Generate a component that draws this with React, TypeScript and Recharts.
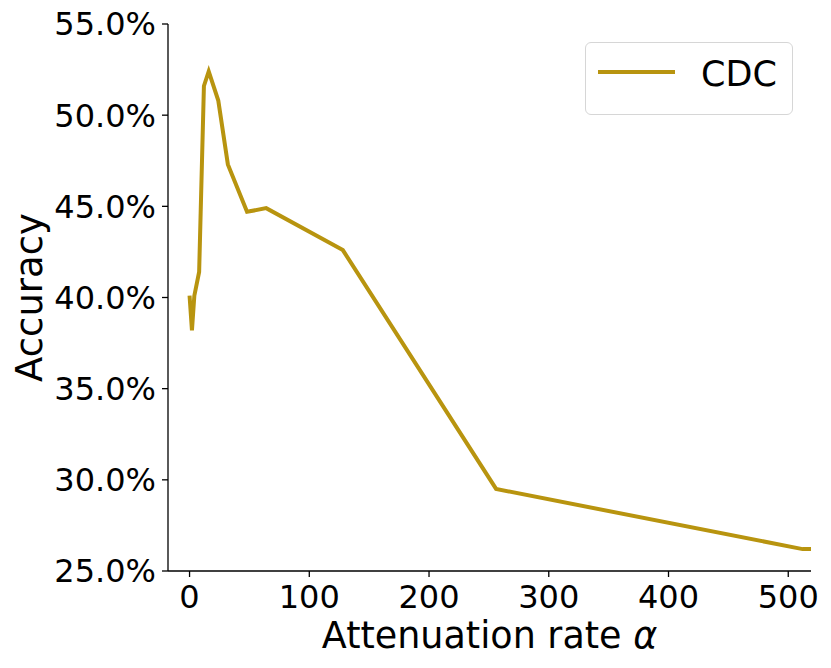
import React from "react";
import { LineChart, Line, XAxis, YAxis, Legend } from "recharts";

// attenuation rate alpha vs accuracy (%)
const alphas = [0, 2, 4, 8, 12, 16, 24, 32, 48, 64, 128, 256, 512, 1024];
const accuracy = [40.1, 38.2, 40.1, 41.4, 51.6, 52.4, 50.8, 47.3, 44.7, 44.9, 42.6, 29.5, 26.2, 26.2];
const xTicks = [0, 100, 200, 300, 400, 500];
const yTicks = [25, 30, 35, 40, 45, 50, 55];

const seriesName = "CDC";
const lineColor = "#b8940f";
const font = "DejaVu Sans";

const data = alphas.map((a, i) => ({ alpha: a, acc: accuracy[i] }));

function LegendBox() {
  return (
    <div
      style={{
        width: 206,
        height: 71,
        border: "1.5px solid #d6d6d6",
        borderRadius: 6,
        background: "#fff",
        position: "relative",
        fontFamily: font,
      }}
    >
      <svg width={206} height={71} style={{ position: "absolute", left: 0, top: 0 }}>
        <line x1={12} x2={89} y1={29} y2={29} stroke={lineColor} strokeWidth={4} />
        <text x={115} y={43} fontSize={35} fill="#000" fontFamily={font}>
          {seriesName}
        </text>
      </svg>
    </div>
  );
}

function XLabel({ viewBox }: any) {
  const cx = viewBox.x + viewBox.width / 2;
  return (
    <text x={cx} y={viewBox.y + 77} textAnchor="middle" fontSize={36.5} fontFamily={font} fill="#000">
      Attenuation rate <tspan fontStyle="italic">α</tspan>
    </text>
  );
}

export default function App() {
  return (
    <div style={{ position: "absolute", left: 0, top: 0, background: "#fff" }}>
      <LineChart width={831} height={668} data={data} margin={{ top: 24, right: 20, left: 0, bottom: 0 }}>
        <XAxis
          dataKey="alpha"
          type="number"
          domain={[-18, 519]}
          allowDataOverflow
          ticks={xTicks}
          height={97}
          tickSize={6}
          tickMargin={8}
          tick={{ fill: "#000", fontSize: 32, fontFamily: font }}
          stroke="#000"
          strokeWidth={1.3}
          label={<XLabel />}
        />
        <YAxis
          type="number"
          domain={[25, 55]}
          allowDataOverflow
          ticks={yTicks}
          width={168}
          tickSize={6}
          tickMargin={6}
          tickFormatter={(v: number) => `${v.toFixed(1)}%`}
          tick={{ fill: "#000", fontSize: 32, fontFamily: font }}
          stroke="#000"
          strokeWidth={1.3}
          label={{
            value: "Accuracy",
            angle: -90,
            position: "insideLeft",
            offset: 29,
            fontSize: 37,
            fontFamily: font,
            fill: "#000",
            style: { textAnchor: "middle" },
          }}
        />
        <Legend
          layout="vertical"
          align="center"
          verticalAlign="middle"
          content={<LegendBox />}
          wrapperStyle={{ position: "absolute", left: 585, top: 42, width: 209, height: 74 }}
        />
        <Line
          type="linear"
          dataKey="acc"
          name={seriesName}
          stroke={lineColor}
          strokeWidth={4}
          dot={false}
          isAnimationActive={false}
        />
      </LineChart>
    </div>
  );
}
